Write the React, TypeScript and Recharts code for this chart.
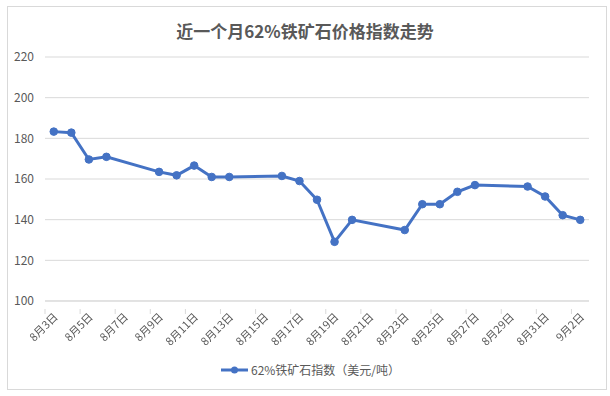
import { LineChart, Line, XAxis, YAxis, CartesianGrid } from "recharts";

const allDays = [
  "8月3日", "8月4日", "8月5日", "8月6日", "8月7日", "8月8日", "8月9日", "8月10日",
  "8月11日", "8月12日", "8月13日", "8月14日", "8月15日", "8月16日", "8月17日", "8月18日",
  "8月19日", "8月20日", "8月21日", "8月22日", "8月23日", "8月24日", "8月25日", "8月26日",
  "8月27日", "8月28日", "8月29日", "8月30日", "8月31日", "9月1日", "9月2日",
];

const pointDays = [
  "8月3日", "8月4日", "8月5日", "8月6日", "8月9日", "8月10日", "8月11日", "8月12日",
  "8月13日", "8月16日", "8月17日", "8月18日", "8月19日", "8月20日", "8月23日", "8月24日",
  "8月25日", "8月26日", "8月27日", "8月30日", "8月31日", "9月1日", "9月2日",
];

const values = [
  183.3, 182.8, 169.6, 170.9, 163.5, 161.8, 166.6, 161.0,
  161.0, 161.5, 159.0, 149.8, 129.1, 139.9, 134.9, 147.6,
  147.6, 153.7, 157.0, 156.3, 151.4, 142.2, 139.9,
];

const yTicks = [100, 120, 140, 160, 180, 200, 220];

const data = pointDays.map((d, i) => ({ day: allDays.indexOf(d), v: values[i] }));
const xTicks = allDays.map((_, i) => i).filter((i) => i % 2 === 0);

const W = 610;
const H = 396;
const PLOT_LEFT = 45;
const PLOT_RIGHT = 589;
const HALF_BAND = (PLOT_RIGHT - PLOT_LEFT) / allDays.length / 2;
const FONT = "'Noto Sans CJK SC', 'Noto Sans', sans-serif";
const GREY = "#595959";
const BLUE = "#4472C4";

function DayTick(props: any) {
  const { x, y, payload } = props;
  return (
    <g transform={`translate(${x},${y})`}>
      <line x1={-HALF_BAND} x2={-HALF_BAND} y1={0} y2={5} stroke="#d9d9d9" />
      <text
        transform="translate(2,6) rotate(-45)"
        textAnchor="end"
        dy="0.35em"
        fontSize={11}
        fill={GREY}
        stroke="none"
        style={{ fill: GREY, filter: "grayscale(1)" }}
        fontFamily={FONT}
      >
        {allDays[payload.value]}
      </text>
    </g>
  );
}

export default function App() {
  return (
    <div style={{ position: "absolute", left: 0, top: 0, width: W, height: H, background: "#fff" }}>
      <div
        style={{
          position: "absolute",
          left: 7,
          top: 6,
          width: 598,
          height: 382,
          border: "1px solid #d9d9d9",
        }}
      />
      <div
        style={{
          position: "absolute",
          left: 0,
          top: 18,
          width: W,
          textAlign: "center",
          fontFamily: FONT,
          fontSize: 17,
          fontWeight: "bold",
          color: GREY,
        }}
      >
        近一个月62%铁矿石价格指数走势
      </div>
      <LineChart
        width={W}
        height={H}
        data={data}
        margin={{ top: 57, right: W - PLOT_RIGHT, left: 0, bottom: 45 }}
        style={{ position: "absolute", left: 0, top: 0 }}
      >
        <CartesianGrid vertical={false} stroke="#d9d9d9" />
        <XAxis
          dataKey="day"
          type="number"
          domain={[-0.5, allDays.length - 0.5]}
          ticks={xTicks}
          interval={0}
          tickLine={false}
          axisLine={{ stroke: "#d9d9d9" }}
          tick={<DayTick />}
          height={50}
        />
        <YAxis
          domain={[100, 220]}
          ticks={yTicks}
          width={PLOT_LEFT}
          tickLine={false}
          axisLine={false}
          tickMargin={5}
          tick={{ fontSize: 12, fill: GREY, fontFamily: FONT }}
        />
        <Line
          dataKey="v"
          stroke={BLUE}
          strokeWidth={3}
          dot={{ r: 3.8, fill: BLUE, stroke: BLUE, strokeWidth: 1 }}
          isAnimationActive={false}
        />
      </LineChart>
      <div
        style={{
          position: "absolute",
          left: 221,
          top: 361,
          display: "flex",
          alignItems: "center",
          fontFamily: FONT,
          fontSize: 12,
          color: GREY,
        }}
      >
        <svg width={28} height={16}>
          <line x1={0} x2={27} y1={8} y2={8} stroke={BLUE} strokeWidth={3} />
          <circle cx={13.5} cy={8} r={3.5} fill={BLUE} />
        </svg>
        <span style={{ marginLeft: 2 }}>62%铁矿石指数（美元/吨）</span>
      </div>
    </div>
  );
}
